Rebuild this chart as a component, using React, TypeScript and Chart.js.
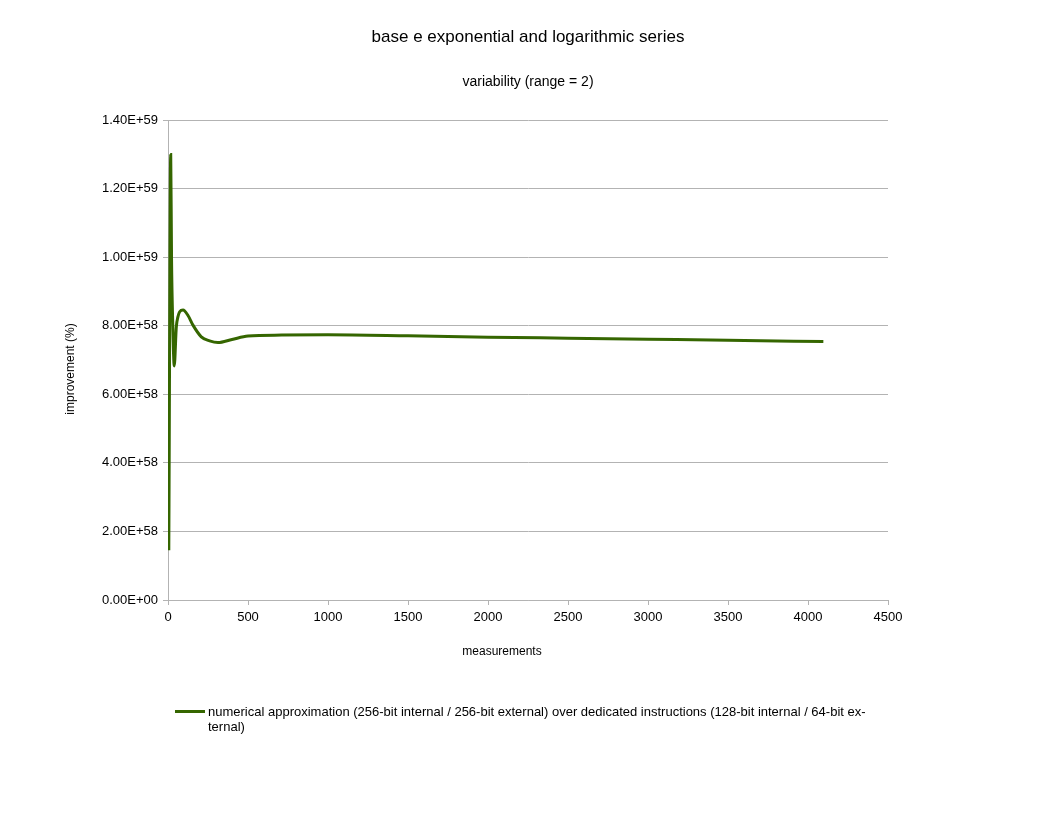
import React, { useEffect, useRef } from 'react';
import { Chart, registerables } from 'chart.js';
import type { ChartConfiguration } from 'chart.js';

Chart.register(...registerables);

const measurements = [5, 17, 22, 30, 39, 52, 62, 73, 94, 125, 156, 208, 260, 312, 400, 500, 710, 1000, 1500, 2000, 2500, 3000, 3500, 4096];
const improvement = [
  1.45e58, 1.3e59, 1.0e59, 8.0e58, 6.83e58, 7.97e58, 8.26e58, 8.41e58, 8.46e58, 8.3e58, 8.02e58, 7.68e58,
  7.56e58, 7.51e58, 7.6e58, 7.7e58, 7.73e58, 7.74e58, 7.71e58, 7.67e58, 7.64e58, 7.61e58, 7.58e58, 7.54e58,
];
const xTicks = [0, 500, 1000, 1500, 2000, 2500, 3000, 3500, 4000, 4500];
const yTicks = [0, 2e58, 4e58, 6e58, 8e58, 1e59, 1.2e59, 1.4e59];

const seriesLabel =
  'numerical approximation (256-bit internal / 256-bit external) over dedicated instructions (128-bit internal / 64-bit ex-';
const seriesLabelRest = 'ternal)';

const FONT = '"Liberation Sans", Arial, sans-serif';
const LINE = '#356600';
const GRID = '#b3b3b3';

const formatSci = (v: number) => {
  if (v === 0) return '0.00E+00';
  const [m, e] = v.toExponential(2).split('e');
  const exp = parseInt(e, 10);
  const sign = exp < 0 ? '-' : '+';
  return `${m}E${sign}${String(Math.abs(exp)).padStart(2, '0')}`;
};

const App: React.FC = () => {
  const chartRef = useRef<HTMLCanvasElement>(null);
  const chartInstanceRef = useRef<Chart | null>(null);

  useEffect(() => {
    if (!chartRef.current) return;
    if (chartInstanceRef.current) chartInstanceRef.current.destroy();
    const ctx = chartRef.current.getContext('2d');
    if (!ctx) return;

    const config: ChartConfiguration = {
      type: 'line',
      data: {
        datasets: [
          {
            label: seriesLabel + seriesLabelRest,
            data: measurements.map((x, i) => ({ x, y: improvement[i] })),
            borderColor: LINE,
            backgroundColor: LINE,
            borderWidth: 3,
            pointRadius: 0,
            cubicInterpolationMode: 'monotone',
            fill: false,
          },
        ],
      },
      options: {
        responsive: false,
        animation: false,
        layout: { padding: { left: 0, right: 0, top: 0, bottom: 159 } },
        scales: {
          x: {
            type: 'linear',
            min: 0,
            max: 4500,
            afterBuildTicks: (scale: any) => {
              scale.ticks = xTicks.map((value) => ({ value }));
            },
            afterFit: (scale: any) => {
              scale.height = 57;
            },
            ticks: {
              color: '#000',
              font: { family: FONT, size: 13 },
              padding: 5,
              maxRotation: 0,
              callback: (v: any) => String(v),
            },
            grid: { display: true, drawOnChartArea: false, color: GRID, tickLength: 5 },
            border: { color: GRID },
          },
          y: {
            type: 'linear',
            position: 'left',
            min: 0,
            max: 1.4e59,
            afterBuildTicks: (scale: any) => {
              scale.ticks = yTicks.map((value) => ({ value }));
            },
            afterFit: (scale: any) => {
              scale.width = 168;
            },
            ticks: {
              color: '#000',
              font: { family: FONT, size: 13 },
              padding: 5,
              callback: (v: any) => formatSci(Number(v)),
            },
            grid: { color: GRID, tickLength: 5 },
            border: { color: GRID },
          },
          yRight: {
            type: 'linear',
            position: 'right',
            display: true,
            ticks: { display: false },
            grid: { display: false, drawTicks: false },
            border: { display: false },
            afterFit: (scale: any) => {
              scale.width = 168;
            },
          },
        },
        plugins: {
          legend: { display: false },
          tooltip: { enabled: false },
          title: {
            display: true,
            text: 'base e exponential and logarithmic series',
            color: '#000',
            font: { family: FONT, size: 17, weight: 'normal' },
            padding: { top: 27, bottom: 26 },
          },
          subtitle: {
            display: true,
            text: 'variability (range = 2)',
            color: '#000',
            font: { family: FONT, size: 14, weight: 'normal' },
            padding: { top: 0, bottom: 30 },
          },
        },
      },
    };

    chartInstanceRef.current = new Chart(ctx, config);

    return () => {
      if (chartInstanceRef.current) {
        chartInstanceRef.current.destroy();
        chartInstanceRef.current = null;
      }
    };
  }, []);

  const axisTitle: React.CSSProperties = {
    position: 'absolute',
    fontFamily: FONT,
    fontSize: 12,
    lineHeight: '14px',
    color: '#000',
    whiteSpace: 'nowrap',
  };

  return (
    <div style={{ position: 'absolute', left: 0, top: 0, width: 1056, height: 816, background: '#fff' }}>
      <canvas ref={chartRef} width={1056} height={816} style={{ position: 'absolute', left: 0, top: 0 }} />
      {/* axis titles sit off-centre in the reference, so they are placed by hand */}
      <div style={{ ...axisTitle, left: 402, top: 644, width: 200, textAlign: 'center' }}>measurements</div>
      <div
        style={{
          ...axisTitle,
          left: -30,
          top: 362,
          width: 200,
          textAlign: 'center',
          transform: 'rotate(-90deg)',
          transformOrigin: '100px 7px',
        }}
      >
        improvement (%)
      </div>
      {/* legend, wrapped as in the reference */}
      <div style={{ position: 'absolute', left: 175, top: 704, width: 700, fontFamily: FONT, fontSize: 13, lineHeight: '15px', color: '#000' }}>
        <span style={{ position: 'absolute', left: 0, top: 6, width: 30, height: 3, background: LINE }} />
        <div style={{ marginLeft: 33 }}>
          {seriesLabel}
          <br />
          {seriesLabelRest}
        </div>
      </div>
    </div>
  );
};

export default App;
